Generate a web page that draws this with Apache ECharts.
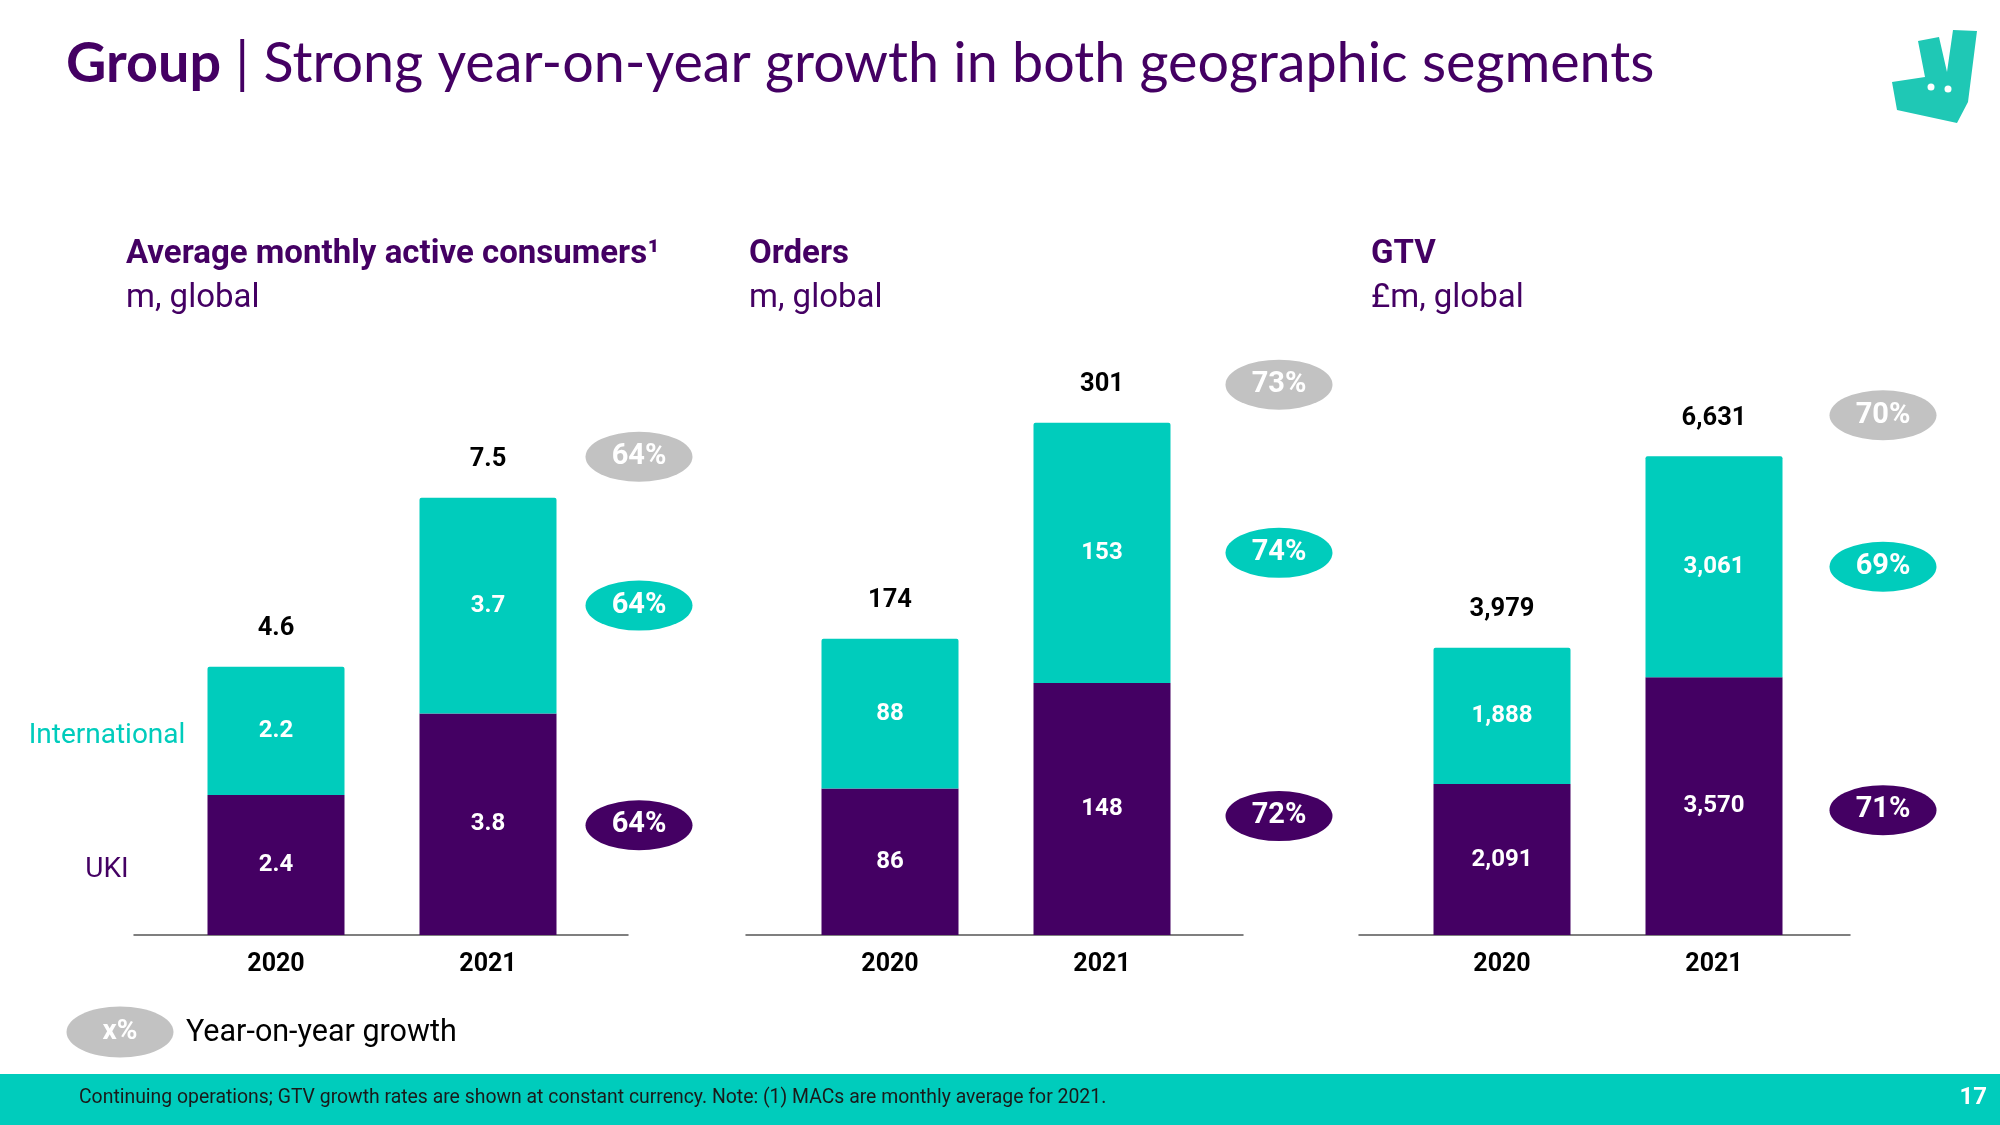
<!DOCTYPE html>
<html><head><meta charset="utf-8">
<script src="https://cdn.jsdelivr.net/npm/echarts@6/dist/echarts.min.js"></script>
<style>html,body{margin:0;padding:0;background:#fff}#c{width:2000px;height:1125px}</style>
</head><body><div id="c"></div>
<script>
// ---------- data ----------
const years = ['2020', '2021'];
const macUKI = [2.4, 3.8];
const macIntl = [2.2, 3.7];
const macTotal = [4.6, 7.5];
const macGrowth = ['64%', '64%', '64%'];      // total, International, UKI
const ordersUKI = [86, 148];
const ordersIntl = [88, 153];
const ordersTotal = [174, 301];
const ordersGrowth = ['73%', '74%', '72%'];
const gtvUKI = [2091, 3570];
const gtvIntl = [1888, 3061];
const gtvTotal = [3979, 6631];
const gtvGrowth = ['70%', '69%', '71%'];
const panelTitles = ['Average monthly active consumers\u00b9', 'Orders', 'GTV'];
const panelUnits = ['m, global', 'm, global', '\u00a3m, global'];
const segmentNames = ['International', 'UKI'];

// ---------- style / layout ----------
const TEAL = '#00CCBC', PURPLE = '#440063', GREY = '#C2C2C2';
const FONT = 'Roboto';
const GRID_TOP = 352, GRID_H = 583;
const panels = [
  { uki: macUKI, intl: macIntl, total: macTotal, growth: macGrowth, fmt: v => v.toFixed(1),
    barLeft: 170, axisLeft: 134, axisW: 494, yMax: 10, pillDx: 151, greyDy: -41, purpleDy: 1, titleX: 126 },
  { uki: ordersUKI, intl: ordersIntl, total: ordersTotal, growth: ordersGrowth, fmt: v => String(v),
    barLeft: 784, axisLeft: 746, axisW: 497, yMax: 342.5, pillDx: 177, greyDy: -38, purpleDy: 7, titleX: 749 },
  { uki: gtvUKI, intl: gtvIntl, total: gtvTotal, growth: gtvGrowth, fmt: v => v.toLocaleString('en-US'),
    barLeft: 1396, axisLeft: 1359, axisW: 491, yMax: 8075, pillDx: 169, greyDy: -41, purpleDy: 4, titleX: 1371 }
];

const grid = [], xAxis = [], yAxis = [], series = [], graphic = [];
panels.forEach((p, i) => {
  // bar grid
  grid.push({ left: p.barLeft, top: GRID_TOP, width: 424, height: GRID_H });
  xAxis.push({ type: 'category', gridIndex: 2 * i, data: years,
    axisLine: { show: false }, axisTick: { show: false },
    axisLabel: { fontFamily: FONT, fontWeight: 'bold', fontSize: 25, color: '#000', margin: 17 } });
  yAxis.push({ type: 'value', gridIndex: 2 * i, min: 0, max: p.yMax, show: false, splitLine: { show: false } });
  // baseline grid
  grid.push({ left: p.axisLeft, top: GRID_TOP, width: p.axisW, height: GRID_H });
  xAxis.push({ type: 'value', gridIndex: 2 * i + 1, min: 0, max: 1,
    axisLine: { show: true, lineStyle: { color: '#555', width: 1.5 } },
    axisTick: { show: false }, axisLabel: { show: false }, splitLine: { show: false } });
  yAxis.push({ type: 'value', gridIndex: 2 * i + 1, min: 0, max: p.yMax, show: false, splitLine: { show: false } });

  const ax = 2 * i;
  const barLabel = { show: true, position: 'inside', color: '#fff', fontFamily: FONT,
    fontWeight: 'bold', fontSize: 24, textBorderWidth: 0, formatter: q => p.fmt(q.value) };
  series.push({ type: 'bar', name: 'UKI', xAxisIndex: ax, yAxisIndex: ax, stack: 's' + i,
    barWidth: 137, data: p.uki, itemStyle: { color: PURPLE }, label: barLabel, silent: true });
  series.push({ type: 'bar', name: 'International', xAxisIndex: ax, yAxisIndex: ax, stack: 's' + i,
    barWidth: 137, data: p.intl, itemStyle: { color: TEAL, borderRadius: [2, 2, 0, 0] }, label: barLabel, silent: true });
  // totals above bars
  series.push({ type: 'scatter', xAxisIndex: ax, yAxisIndex: ax, symbolSize: 1, silent: true, clip: false,
    itemStyle: { color: 'rgba(0,0,0,0)', opacity: 1 }, z: 5,
    data: p.total.map((v, j) => [j, v]),
    label: { show: true, position: 'inside', offset: [0, -38], color: '#000', fontFamily: FONT,
      fontWeight: 'bold', fontSize: 25.5, textBorderWidth: 0, formatter: q => p.fmt(q.value[1]) } });
  // growth pills next to 2021 bar
  series.push({ type: 'scatter', xAxisIndex: ax, yAxisIndex: ax, symbol: 'circle', symbolSize: [107, 50],
    silent: true, clip: false, z: 6,
    itemStyle: { opacity: 1 },
    data: [
      { value: [1, p.total[1]], symbolOffset: [p.pillDx, p.greyDy], itemStyle: { color: GREY } },
      { value: [1, p.uki[1] + p.intl[1] / 2], symbolOffset: [p.pillDx, 0], itemStyle: { color: TEAL } },
      { value: [1, p.uki[1] / 2], symbolOffset: [p.pillDx, p.purpleDy], itemStyle: { color: PURPLE } }
    ],
    label: { show: true, position: 'inside', color: '#fff', fontFamily: FONT, fontWeight: 'bold',
      fontSize: 29, textBorderWidth: 0, formatter: q => p.growth[q.dataIndex] } });

  graphic.push({ type: 'text', x: p.titleX, y: 255, style: { text: panelTitles[i], fontFamily: FONT,
    fontWeight: 'bold', fontSize: 33, fill: PURPLE, verticalAlign: 'middle' } });
  graphic.push({ type: 'text', x: p.titleX, y: 299, style: { text: panelUnits[i], fontFamily: FONT,
    fontSize: 33, fill: PURPLE, verticalAlign: 'middle' } });
});

// segment labels at left of first panel, aligned with 2020 segments
series.push({ type: 'scatter', xAxisIndex: 0, yAxisIndex: 0, symbolSize: 1, silent: true, clip: false,
  itemStyle: { color: 'rgba(0,0,0,0)', opacity: 1 },
  data: [
    { value: [0, macUKI[0] + macIntl[0] / 2], label: { color: TEAL, formatter: segmentNames[0] } },
    { value: [0, macUKI[0] / 2], label: { color: PURPLE, formatter: segmentNames[1] } }
  ],
  label: { show: true, position: 'inside', offset: [-169, 5], fontFamily: FONT, fontSize: 28, textBorderWidth: 0 } });

// title
graphic.push({ type: 'text', x: 66, y: 64, style: {
  text: '{b|Group} | Strong year-on-year growth in both geographic segments',
  fontFamily: 'Lato', fontSize: 55.7, fill: PURPLE, verticalAlign: 'middle',
  rich: { b: { fontFamily: 'Lato', fontWeight: 'bold', fontSize: 55.7, fill: PURPLE } } } });
// logo
graphic.push({ type: 'polygon', shape: { points: [[1892, 82], [1925, 77], [1918, 41], [1939, 37], [1947, 72],
  [1953, 30], [1977, 31], [1968, 102], [1957, 123], [1897, 110]] }, style: { fill: '#1FC8B5' } });
graphic.push({ type: 'circle', shape: { cx: 1931, cy: 87, r: 3.5 }, style: { fill: '#fff' } });
graphic.push({ type: 'circle', shape: { cx: 1948, cy: 89, r: 3.5 }, style: { fill: '#fff' } });
// legend
graphic.push({ type: 'ellipse', shape: { cx: 120, cy: 1032, rx: 53.5, ry: 25.5 }, style: { fill: GREY } });
graphic.push({ type: 'text', x: 120, y: 1032, style: { text: 'x%', fontFamily: FONT, fontWeight: 'bold',
  fontSize: 28, fill: '#fff', align: 'center', verticalAlign: 'middle' } });
graphic.push({ type: 'text', x: 186, y: 1033, style: { text: 'Year-on-year growth', fontFamily: FONT,
  fontSize: 30.5, fill: '#000', verticalAlign: 'middle' } });
// footer
graphic.push({ type: 'rect', shape: { x: 0, y: 1074, width: 2000, height: 51 }, style: { fill: TEAL }, z: -1 });
graphic.push({ type: 'text', x: 79, y: 1098, style: {
  text: 'Continuing operations; GTV growth rates are shown at constant currency. Note: (1) MACs are monthly average for 2021.',
  fontFamily: FONT, fontSize: 19.4, fill: '#1a1a1a', verticalAlign: 'middle' } });
graphic.push({ type: 'text', x: 1987, y: 1098, style: { text: '17', fontFamily: FONT, fontWeight: 'bold',
  fontSize: 24, fill: '#fff', align: 'right', verticalAlign: 'middle' } });

const chart = echarts.init(document.getElementById('c'), null, { renderer: 'canvas' });
chart.setOption({ animation: false, backgroundColor: '#fff', grid, xAxis, yAxis, series, graphic });
</script></body></html>
